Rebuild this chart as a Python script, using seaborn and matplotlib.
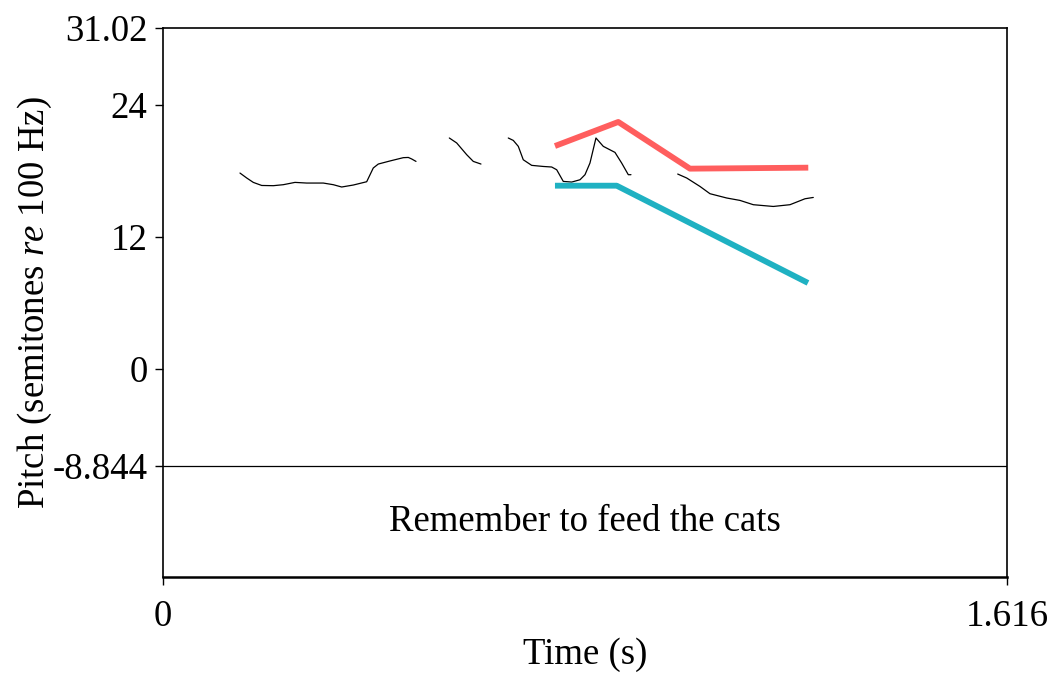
import matplotlib
matplotlib.use("Agg")
import matplotlib.pyplot as plt
import seaborn as sns
import pandas as pd

# ---- data ----
seg1_t = [0.1474, 0.1603, 0.1729, 0.1890, 0.2112, 0.2303, 0.2527, 0.2751, 0.3069, 0.3261,
          0.3421, 0.3644, 0.3900, 0.4026, 0.4122, 0.4346, 0.4601, 0.4697, 0.4762, 0.4844]
seg1_p = [17.82, 17.37, 16.97, 16.69, 16.67, 16.76, 16.97, 16.91, 16.91, 16.76,
          16.55, 16.73, 17.03, 18.28, 18.64, 18.92, 19.22, 19.24, 19.10, 18.88]
seg2_t = [0.5482, 0.5623, 0.5815, 0.5941, 0.6088]
seg2_p = [21.01, 20.56, 19.49, 18.88, 18.64]
seg3_t = [0.6611, 0.6707, 0.6803, 0.6898, 0.7059, 0.7281, 0.7442, 0.7538, 0.7664, 0.7825,
          0.7984, 0.8080, 0.8175, 0.8290, 0.8430, 0.8654, 0.8782, 0.8909, 0.8960]
seg3_p = [21.01, 20.79, 20.25, 19.03, 18.52, 18.42, 18.37, 18.12, 17.06, 17.00,
          17.21, 17.67, 18.73, 21.01, 20.25, 19.70, 18.73, 17.67, 17.67]
seg4_t = [0.9855, 1.0027, 1.0282, 1.0473, 1.0793, 1.1048, 1.1302, 1.1685, 1.2005, 1.2292, 1.2451]
seg4_p = [17.73, 17.37, 16.60, 15.94, 15.55, 15.33, 14.94, 14.78, 14.94, 15.48, 15.60]

red_t = [0.7505, 0.8717, 1.0090, 1.2355]
red_p = [20.28, 22.47, 18.22, 18.31]
teal_t = [0.7505, 0.8687, 1.2349]
teal_p = [16.67, 16.67, 7.82]

y_ticks = [-8.844, 0, 12, 24, 31.02]
y_tick_labels = ["-8.844", "0", "12", "24", "31.02"]
x_ticks = [0, 1.616]
x_tick_labels = ["0", "1.616"]
tier_text = "Remember to feed the cats"
t_max = 1.616
y_min, y_max = -18.94, 31.02
tier_line = -8.844

# ---- style ----
sns.set_theme(style="white")
plt.rcParams['font.family'] = ['Liberation Serif', 'DejaVu Serif']
plt.rcParams['mathtext.fontset'] = 'custom'
plt.rcParams['mathtext.rm'] = 'Liberation Serif'
plt.rcParams['mathtext.it'] = 'Liberation Serif:italic'
for k in ['text.color', 'axes.labelcolor', 'xtick.color', 'ytick.color', 'axes.edgecolor']:
    plt.rcParams[k] = 'black'

FS = 26.5

fig = plt.figure(figsize=(10.54, 6.73), dpi=100)
ax = fig.add_axes([163/1054, 96/673, 844/1054, 549/673])

rows = []
for i, (ts, ps) in enumerate([(seg1_t, seg1_p), (seg2_t, seg2_p), (seg3_t, seg3_p), (seg4_t, seg4_p)]):
    for t, p in zip(ts, ps):
        rows.append({"t": t, "p": p, "seg": i})
contour = pd.DataFrame(rows)
sns.lineplot(data=contour, x="t", y="p", units="seg", estimator=None, sort=False,
             color="black", linewidth=0.9, ax=ax)

sns.lineplot(x=red_t, y=red_p, sort=False, color="#FF5E5E", linewidth=4.2, ax=ax,
             solid_capstyle="butt")
sns.lineplot(x=teal_t, y=teal_p, sort=False, color="#1FB1C2", linewidth=4.2, ax=ax,
             solid_capstyle="butt")

ax.axhline(tier_line, color="black", linewidth=0.9)
ax.text(t_max / 2, (tier_line + y_min) / 2, tier_text, ha="center", va="center", fontsize=FS)

ax.set_xlim(0, t_max)
ax.set_ylim(y_min, y_max)
ax.set_yticks(y_ticks)
ax.set_yticklabels(y_tick_labels)
ax.set_xticks(x_ticks)
ax.set_xticklabels(x_tick_labels)
ax.tick_params(axis="y", direction="out", length=6, width=1, pad=5, labelsize=FS, left=True)
ax.tick_params(axis="x", direction="out", length=6, width=1, pad=10, labelsize=FS, bottom=True)

for s in ax.spines.values():
    s.set_color("black")
    s.set_linewidth(1.2)
ax.spines["bottom"].set_linewidth(1.8)

ax.set_xlabel("Time (s)", fontsize=FS)
ax.set_ylabel(r"Pitch (semitones $re$ 100 Hz)", fontsize=FS)
ax.xaxis.set_label_coords(0.5, -78/549)
ax.xaxis.label.set_va("center")
ax.yaxis.set_label_coords(-128/844, 0.5)
ax.yaxis.label.set_va("center")
ax.grid(False)
if ax.get_legend():
    ax.get_legend().remove()

fig.savefig("out.png", dpi=100, facecolor="white")
